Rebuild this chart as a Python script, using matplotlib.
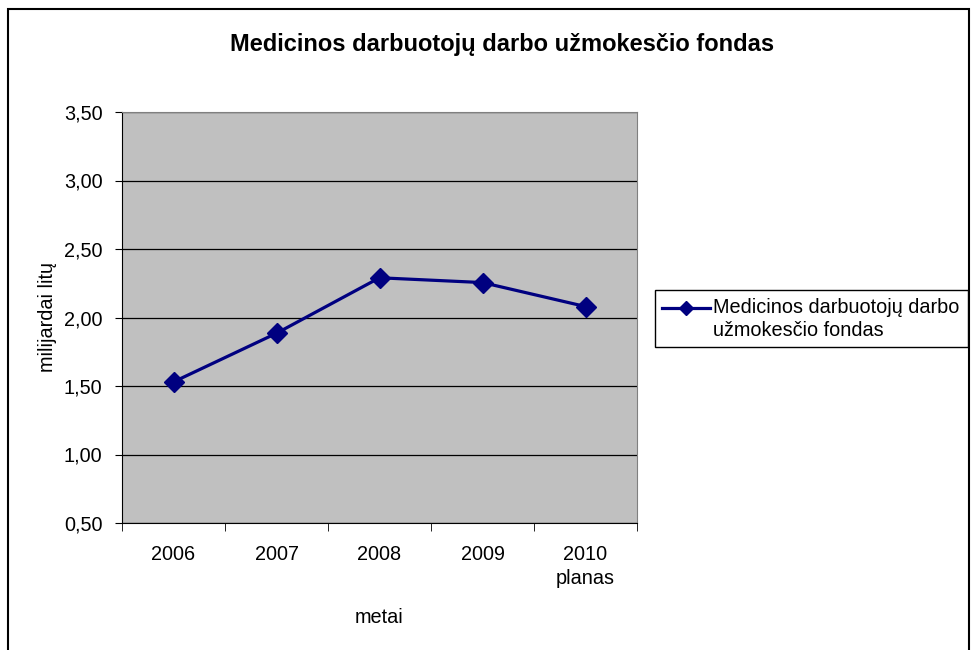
import matplotlib
matplotlib.use("Agg")
import matplotlib.pyplot as plt
from matplotlib.patches import Rectangle
from matplotlib.lines import Line2D

categories = ["2006", "2007", "2008", "2009", "2010\nplanas"]
values = [1.53, 1.885, 2.29, 2.255, 2.08]
yticks = [0.5, 1.0, 1.5, 2.0, 2.5, 3.0, 3.5]
ytick_labels = ["0,50", "1,00", "1,50", "2,00", "2,50", "3,00", "3,50"]
series_name = "Medicinos darbuotojų darbo\nužmokesčio fondas"
title = "Medicinos darbuotojų darbo užmokesčio fondas"

plt.rcParams['font.family'] = ['Liberation Sans', 'DejaVu Sans']
FS = 14.3
NAVY = "#000080"

W, H = 971, 650
fig = plt.figure(figsize=(W / 100, H / 100), dpi=100)
fig.patch.set_facecolor("white")

def fx(px):
    return px / W

def fy(py):
    return 1 - py / H

# outer chart border
fig.add_artist(Rectangle((fx(8), -0.05), fx(969 - 8), 1 - 9 / H + 0.05,
                         transform=fig.transFigure, fill=False,
                         edgecolor="black", linewidth=1.5))

left, right, top, bottom = 122, 637, 112, 523
ax = fig.add_axes([fx(left), fy(bottom), fx(right - left), (bottom - top) / H])
ax.set_facecolor("#c0c0c0")

x = list(range(len(categories)))
ax.plot(x, values, color=NAVY, linewidth=2.3, marker="D",
        markersize=10.5, zorder=3)

ax.set_xlim(-0.5, len(categories) - 0.5)
ax.set_ylim(0.5, 3.5)
ax.set_yticks(yticks)
ax.set_yticklabels(ytick_labels, fontsize=FS)
ax.yaxis.grid(True, color="black", linewidth=0.9)
ax.set_axisbelow(True)

# category labels centred, ticks at boundaries
ax.set_xticks(x)
ax.set_xticklabels(categories, fontsize=FS, linespacing=1.35)
ax.tick_params(axis="x", length=0, pad=16)
ax.set_xticks([i - 0.5 for i in range(len(categories) + 1)], minor=True)
ax.tick_params(axis="x", which="minor", length=6, direction="out", color="black")
ax.tick_params(axis="y", length=5, direction="out", pad=9)

for side in ["top", "right"]:
    ax.spines[side].set_color("#808080")
ax.spines["left"].set_color("black")
ax.spines["bottom"].set_color("black")

ax.set_ylabel("milijardai litų", fontsize=FS, labelpad=5)
ax.set_xlabel("metai", fontsize=FS, labelpad=14)

fig.text(fx(502), fy(45), title, ha="center", va="center",
         fontsize=17, fontweight="bold")

# legend (drawn manually to match the original layout)
fig.add_artist(Rectangle((fx(655), fy(347)), fx(968 - 655), (347 - 290) / H,
                         transform=fig.transFigure, fill=True, facecolor="white",
                         edgecolor="black", linewidth=1.0))
fig.add_artist(Line2D([fx(662), fx(710)], [fy(308), fy(308)],
                      transform=fig.transFigure, color=NAVY, linewidth=2.3))
fig.add_artist(Line2D([fx(686)], [fy(308)], transform=fig.transFigure,
                      color=NAVY, marker="D", markersize=7.5, linestyle="none"))
fig.text(fx(713), fy(319), series_name, ha="left", va="center",
         fontsize=FS, linespacing=1.32)

fig.savefig("out.png", dpi=100)
